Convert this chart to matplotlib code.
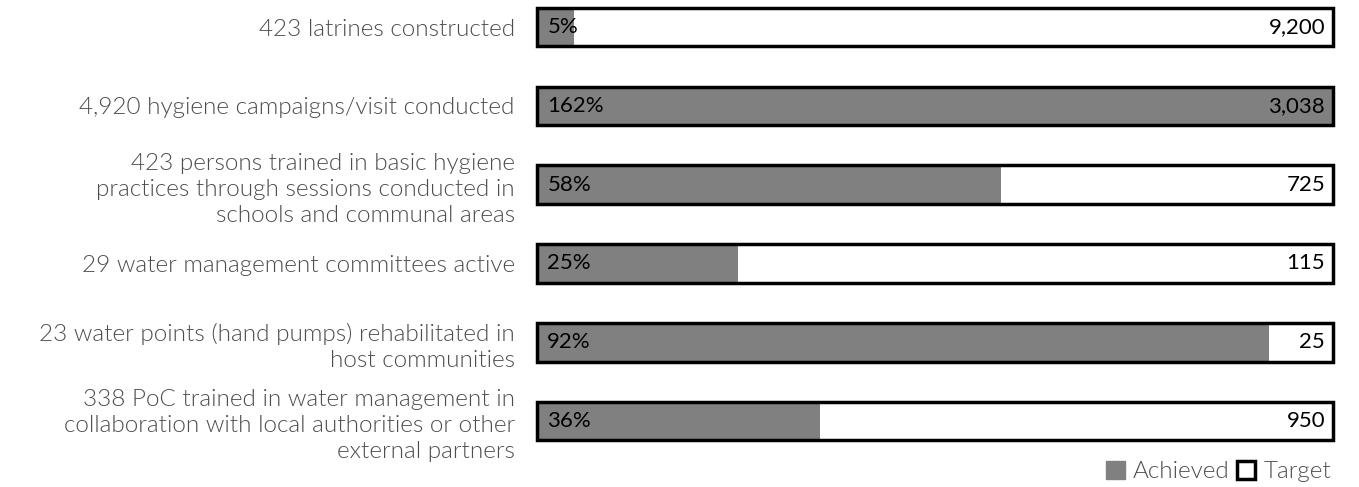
import matplotlib.pyplot as plt
from matplotlib.patches import Patch

plt.rcParams['font.family'] = ['Lato', 'DejaVu Sans']

# indicator labels, achieved values and targets, top to bottom
labels = [
    "423 latrines constructed",
    "4,920 hygiene campaigns/visit conducted",
    "423 persons trained in basic hygiene\npractices through sessions conducted in\nschools and communal areas",
    "29 water management committees active",
    "23 water points (hand pumps) rehabilitated in\nhost communities",
    "338 PoC trained in water management in\ncollaboration with local authorities or other\nexternal partners",
]
achieved = [423, 4920, 423, 29, 23, 338]
target = [9200, 3038, 725, 115, 25, 950]
pct_labels = ["5%", "162%", "58%", "25%", "92%", "36%"]
target_labels = ["9,200", "3,038", "725", "115", "25", "950"]

grey = "#808080"
fig = plt.figure(figsize=(13.59, 4.87), dpi=100)
ax = fig.add_axes([537 / 1359, 37 / 487, (1333 - 537) / 1359, 450 / 487])

ypos = list(range(len(labels)))
frac = [min(a / t, 1.0) for a, t in zip(achieved, target)]

ax.barh(ypos, [1] * len(ypos), height=0.49, color="white", zorder=1)
ax.barh(ypos, frac, height=0.49, color=grey, zorder=2)
ax.barh(ypos, [1] * len(ypos), height=0.49, fill=False, edgecolor="black",
        linewidth=2.5, zorder=3, clip_on=False)

for y, p, t in zip(ypos, pct_labels, target_labels):
    ax.text(0.013, y, p, ha="left", va="center", fontsize=16, color="black", zorder=4)
    ax.text(0.99, y, t, ha="right", va="center", fontsize=16, color="black", zorder=4)

ax.set_xlim(0, 1)
ax.set_ylim(5.368, -0.343)
ax.set_yticks(ypos)
ax.set_yticklabels(labels, fontsize=17.5, color="#4d4d4d", fontweight=300,
                   linespacing=1.3)
ax.tick_params(axis="y", length=0, pad=16)
ax.set_xticks([])
for s in ax.spines.values():
    s.set_visible(False)

handles = [Patch(facecolor=grey, edgecolor=grey, label="Achieved"),
           Patch(facecolor="white", edgecolor="black", linewidth=2.5, label="Target")]
leg = fig.legend(handles=handles, loc="lower right", bbox_to_anchor=(0.996, -0.035),
                 ncol=2, frameon=False, fontsize=17.5, handlelength=0.75,
                 handleheight=0.75, handletextpad=0.35, columnspacing=0.3)
for txt in leg.get_texts():
    txt.set_color("#4d4d4d")
    txt.set_fontweight(300)

fig.savefig("out.png", dpi=100)
